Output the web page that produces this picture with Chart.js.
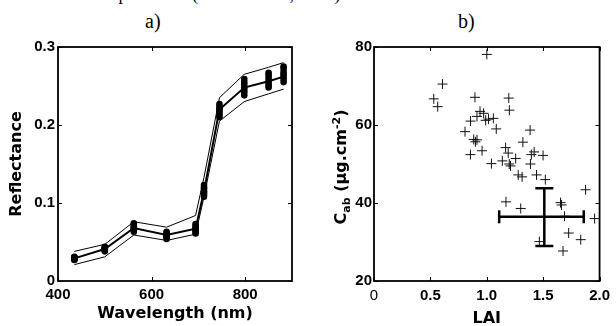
<!DOCTYPE html>
<html>
<head>
<meta charset="utf-8">
<script src="https://cdn.jsdelivr.net/npm/chart.js@4.4.1/dist/chart.umd.min.js"></script>
<style>
  html, body { margin: 0; padding: 0; background: #fff; }
  body { width: 616px; height: 326px; position: relative; overflow: hidden; }
  .serif { position: absolute; font-family: 'Liberation Serif', 'Times New Roman', serif; color: #000; white-space: nowrap; }
  canvas { position: absolute; top: 0; }
</style>
</head>
<body>
<div class="serif" style="left:79px;top:-15px;font-size:18px;line-height:18px;">were presented (Bacour et al., 2002).</div>
<div class="serif" style="left:145px;top:11px;font-size:20px;line-height:20px;">a)</div>
<div class="serif" style="left:458px;top:11px;font-size:20px;line-height:20px;">b)</div>
<canvas id="reflChart" width="300" height="326" style="left:0"></canvas>
<canvas id="laiChart" width="316" height="326" style="left:300px"></canvas>
<script>
// a) reflectance per band, b) LAI against leaf chlorophyll

const bands = [435, 500, 562, 632, 694, 712, 745, 798, 850, 882];
const meanRefl  = [0.029, 0.041, 0.068, 0.059, 0.067, 0.115, 0.220, 0.248, 0.256, 0.262];
const upperRefl = [0.038, 0.047, 0.076, 0.069, 0.084, 0.133, 0.235, 0.265, 0.274, 0.280];
const lowerRefl = [0.021, 0.031, 0.059, 0.052, 0.060, 0.108, 0.205, 0.230, 0.240, 0.246];
// individual spectra, they pile up into the black blobs
const spectra = [
  [0.027, 0.038, 0.063, 0.054, 0.061, 0.108, 0.210, 0.238, 0.248, 0.255],
  [0.028, 0.039, 0.065, 0.056, 0.063, 0.111, 0.213, 0.242, 0.251, 0.259],
  [0.028, 0.040, 0.067, 0.057, 0.065, 0.113, 0.216, 0.245, 0.254, 0.262],
  [0.029, 0.041, 0.068, 0.058, 0.067, 0.115, 0.219, 0.248, 0.257, 0.265],
  [0.030, 0.042, 0.070, 0.060, 0.069, 0.118, 0.221, 0.252, 0.261, 0.268],
  [0.030, 0.043, 0.072, 0.061, 0.071, 0.120, 0.224, 0.255, 0.264, 0.272],
  [0.031, 0.044, 0.074, 0.063, 0.073, 0.123, 0.227, 0.259, 0.267, 0.275]
];

const laiValues = [1.00, 0.607, 0.53, 0.565, 0.895, 1.195, 1.20, 0.94, 0.972, 0.913,
  0.856, 1.015, 1.058, 0.99, 1.084, 0.807, 1.384, 0.884, 0.913, 0.899,
  1.32, 0.958, 1.167, 0.855, 1.42, 1.19, 1.395, 1.499, 1.041, 1.138,
  1.199, 1.256, 1.387, 1.21, 1.279, 1.313, 1.441, 1.519, 1.17, 1.301,
  1.876, 1.654, 1.663, 1.689, 1.956, 1.726, 1.833, 1.466, 1.676];
const cabValues = [78.1, 70.5, 66.7, 64.7, 67.1, 66.9, 63.8, 63.5, 63.0, 62.2,
  61.0, 61.5, 61.7, 61.2, 59.0, 58.3, 58.7, 56.3, 56.2, 55.7,
  55.6, 53.4, 54.2, 52.4, 53.1, 52.8, 52.4, 52.2, 50.1, 50.8,
  50.0, 51.4, 50.0, 49.5, 47.2, 46.7, 47.2, 46.0, 40.3, 38.6,
  43.4, 40.1, 39.5, 36.6, 36.0, 32.3, 30.6, 30.1, 27.7];

// mean and spread shown by the cross
const laiMean = 1.51;
const cabMean = 36.45;
const laiSpread = [1.11, 1.86];
const cabSpread = [29.0, 43.8];

const tickFont = { family: 'Liberation Sans', size: 15, weight: 'bold' };
const titleFont = { family: 'DejaVu Sans', size: 16, weight: 'bold' };

// matlab style box with inward ticks
const boxTicks = {
  id: 'boxTicks',
  afterDraw(chart) {
    const { ctx, chartArea: a, scales: { x, y } } = chart;
    ctx.save();
    ctx.strokeStyle = '#000';
    ctx.lineWidth = 1;
    ctx.beginPath();
    x.ticks.forEach(t => {
      const px = Math.round(x.getPixelForValue(t.value)) + 0.5;
      ctx.moveTo(px, a.bottom); ctx.lineTo(px, a.bottom - 4);
      ctx.moveTo(px, a.top); ctx.lineTo(px, a.top + 4);
    });
    y.ticks.forEach(t => {
      const py = Math.round(y.getPixelForValue(t.value)) + 0.5;
      ctx.moveTo(a.left, py); ctx.lineTo(a.left + 4, py);
      ctx.moveTo(a.right, py); ctx.lineTo(a.right - 4, py);
    });
    ctx.stroke();
    ctx.lineWidth = 1.8;
    ctx.strokeRect(a.left, a.top, a.right - a.left, a.bottom - a.top);
    ctx.restore();
  }
};

const errorCross = {
  id: 'errorCross',
  afterDatasetsDraw(chart) {
    const { ctx, scales: { x, y } } = chart;
    const cx = x.getPixelForValue(laiMean), cy = y.getPixelForValue(cabMean);
    const x0 = x.getPixelForValue(laiSpread[0]), x1 = x.getPixelForValue(laiSpread[1]);
    const y0 = y.getPixelForValue(cabSpread[0]), y1 = y.getPixelForValue(cabSpread[1]);
    ctx.save();
    ctx.strokeStyle = '#000';
    ctx.lineWidth = 2.5;
    ctx.beginPath();
    ctx.moveTo(x0, cy); ctx.lineTo(x1, cy);
    ctx.moveTo(x0, cy - 6.5); ctx.lineTo(x0, cy + 6.5);
    ctx.moveTo(x1, cy - 6.5); ctx.lineTo(x1, cy + 6.5);
    ctx.moveTo(cx, y0); ctx.lineTo(cx, y1);
    ctx.moveTo(cx - 9, y0); ctx.lineTo(cx + 9, y0);
    ctx.moveTo(cx - 9, y1); ctx.lineTo(cx + 9, y1);
    ctx.stroke();
    ctx.restore();
  }
};

// y title with sub- and superscript
const cabTitle = {
  id: 'cabTitle',
  afterDraw(chart) {
    const { ctx, chartArea: a } = chart;
    const parts = [
      { t: 'C', size: 16, dy: 0 },
      { t: 'ab', size: 11, dy: 4 },
      { t: ' (\u00b5g.cm', size: 16, dy: 0 },
      { t: '-2', size: 11, dy: -6 },
      { t: ')', size: 16, dy: 0 }
    ];
    ctx.save();
    let total = 0;
    parts.forEach(p => {
      ctx.font = 'bold ' + p.size + 'px "DejaVu Sans"';
      p.w = ctx.measureText(p.t).width;
      total += p.w;
    });
    ctx.translate(a.left - 28, (a.top + a.bottom) / 2 + 3 + total / 2);
    ctx.rotate(-Math.PI / 2);
    ctx.fillStyle = '#000';
    ctx.textBaseline = 'alphabetic';
    let pos = 0;
    parts.forEach(p => {
      ctx.font = 'bold ' + p.size + 'px "DejaVu Sans"';
      ctx.fillText(p.t, pos, p.dy);
      pos += p.w;
    });
    ctx.restore();
  }
};

const samplePoints = [];
spectra.forEach(s => s.forEach((v, i) => samplePoints.push({ x: bands[i], y: v })));
const asXY = vals => vals.map((v, i) => ({ x: bands[i], y: v }));

new Chart(document.getElementById('reflChart'), {
  type: 'scatter',
  data: {
    datasets: [
      { data: samplePoints, pointRadius: 3.3, pointBackgroundColor: '#000', pointBorderWidth: 0 },
      { type: 'line', data: asXY(meanRefl), borderColor: '#000', borderWidth: 2, pointRadius: 0, tension: 0 },
      { type: 'line', data: asXY(upperRefl), borderColor: '#000', borderWidth: 1, pointRadius: 0, tension: 0 },
      { type: 'line', data: asXY(lowerRefl), borderColor: '#000', borderWidth: 1, pointRadius: 0, tension: 0 }
    ]
  },
  options: {
    responsive: false,
    animation: false,
    layout: { padding: { top: 47, right: 8, left: 0, bottom: 0 } },
    plugins: { legend: { display: false }, tooltip: { enabled: false } },
    scales: {
      x: {
        type: 'linear', min: 400, max: 900,
        ticks: { stepSize: 200, includeBounds: false, color: '#000', font: tickFont, padding: 5 },
        grid: { display: false, drawTicks: false },
        border: { display: false },
        title: { display: true, text: 'Wavelength (nm)', color: '#000', font: titleFont, padding: { top: 0, bottom: 3 } },
        afterFit: s => { s.height = 45; }
      },
      y: {
        min: 0, max: 0.3,
        ticks: { stepSize: 0.1, color: '#000', font: tickFont, padding: 3 },
        grid: { display: false, drawTicks: false },
        border: { display: false },
        title: { display: true, text: 'Reflectance', color: '#000', font: titleFont, padding: { top: 7, bottom: 0 } },
        afterFit: s => { s.width = 58; }
      }
    }
  },
  plugins: [boxTicks]
});

new Chart(document.getElementById('laiChart'), {
  type: 'scatter',
  data: {
    datasets: [{
      data: laiValues.map((v, i) => ({ x: v, y: cabValues[i] })),
      pointStyle: 'cross', pointRadius: 5, borderColor: '#111', borderWidth: 1
    }]
  },
  options: {
    responsive: false,
    animation: false,
    layout: { padding: { top: 47, right: 9, left: 0, bottom: 0 } },
    plugins: { legend: { display: false }, tooltip: { enabled: false } },
    scales: {
      x: {
        type: 'linear', min: 0, max: 2,
        ticks: {
          stepSize: 0.5, color: '#000', padding: 6,
          font: c => ({ family: 'Liberation Sans', size: 15, weight: c.tick && c.tick.value === 0 ? 'normal' : 'bold' })
        },
        grid: { display: false, drawTicks: false },
        border: { display: false },
        title: { display: true, text: 'LAI', color: '#000', font: titleFont, padding: { top: 0, bottom: -2 } },
        afterFit: s => { s.height = 45; }
      },
      y: {
        min: 20, max: 80,
        ticks: { stepSize: 20, color: '#000', font: tickFont, padding: 2 },
        grid: { display: false, drawTicks: false },
        border: { display: false },
        afterFit: s => { s.width = 74; }
      }
    }
  },
  plugins: [boxTicks, errorCross, cabTitle]
});
</script>
</body>
</html>
